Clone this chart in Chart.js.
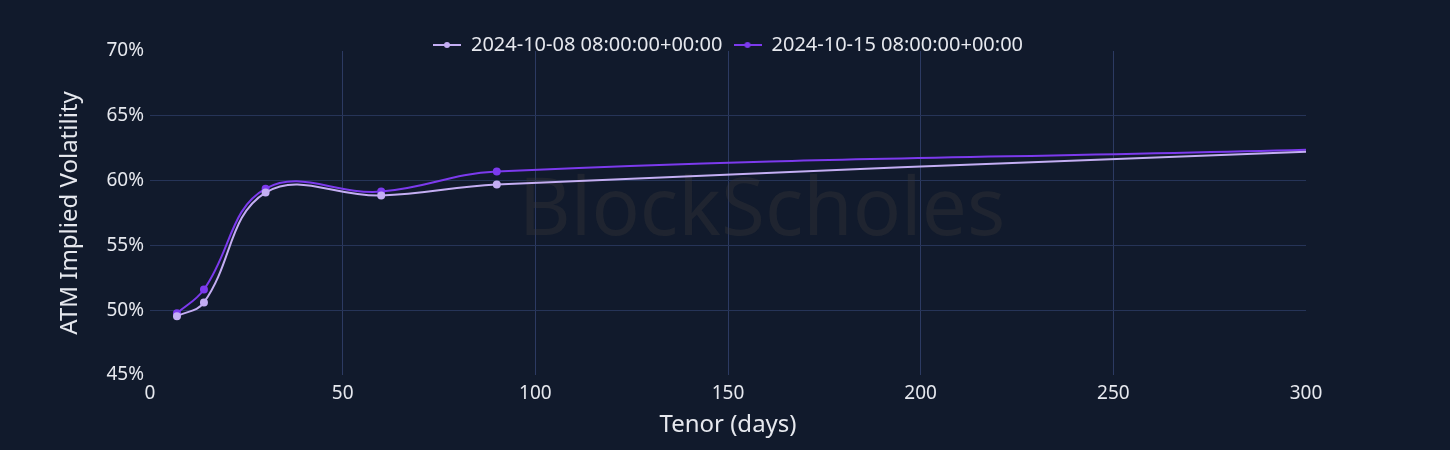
<!DOCTYPE html>
<html>
<head>
<meta charset="utf-8">
<script src="https://cdn.jsdelivr.net/npm/chart.js@4/dist/chart.umd.min.js"></script>
<style>
  html, body { margin: 0; padding: 0; background: #111a2c; }
  #wrap { width: 1450px; height: 450px; }
</style>
</head>
<body>
<div id="wrap"><canvas id="atmVol"></canvas></div>
<script>
const tenors = [7, 14, 30, 60, 90, 300];
const vol_1008 = [49.54, 50.6, 59.08, 58.85, 59.7, 62.23];
const vol_1015 = [49.77, 51.6, 59.38, 59.15, 60.7, 62.38];
const seriesNames = ['2024-10-08 08:00:00+00:00', '2024-10-15 08:00:00+00:00'];
const seriesColors = ['#c4aef3', '#7c3aed'];
const xTicks = [0, 50, 100, 150, 200, 250, 300];
const yTicks = [45, 50, 55, 60, 65, 70];

const gridColor = '#263458';
const textColor = '#e6e8ee';
const font = 'Noto Sans';

// little line-with-dot marker for the legend
function legendIcon(color) {
    const c = document.createElement('canvas');
    c.width = 28;
    c.height = 8;
    const g = c.getContext('2d');
    g.strokeStyle = color;
    g.lineWidth = 2;
    g.beginPath();
    g.moveTo(0, 4);
    g.lineTo(28, 4);
    g.stroke();
    g.fillStyle = color;
    g.beginPath();
    g.arc(14, 4, 3, 0, Math.PI * 2);
    g.fill();
    return c;
}

// markers only on the quoted tenors, not on the curve end
const radii = tenors.map(t => t === 300 ? 0 : 3);

const watermark = {
    id: 'watermark',
    beforeDatasetsDraw(chart) {
        const { ctx, chartArea } = chart;
        ctx.save();
        ctx.font = '80px "Noto Sans"';
        ctx.fillStyle = 'rgba(58, 58, 58, 0.35)';
        ctx.textAlign = 'center';
        ctx.textBaseline = 'middle';
        ctx.fillText('BlockScholes', (chartArea.left + chartArea.right) / 2 + 34, 212);
        ctx.restore();
    }
};

// legend sits a bit lower and is centred over the plot area, not the canvas
const nudgeLegend = {
    id: 'nudgeLegend',
    afterLayout(chart) {
        const lg = chart.legend;
        const dx = chart.chartArea.left / 2;
        lg.top += 14;
        lg.bottom += 14;
        lg.left += dx;
        lg.right += dx;
    }
};

const ctx = document.getElementById('atmVol').getContext('2d');
const atmVol = new Chart(ctx, {
    type: 'line',
    data: {
        datasets: [{
            label: seriesNames[0],
            data: tenors.map((t, i) => ({ x: t, y: vol_1008[i] })),
            borderColor: seriesColors[0],
            backgroundColor: seriesColors[0],
            borderWidth: 2,
            pointRadius: radii,
            pointHoverRadius: radii,
            tension: 0.4
        }, {
            label: seriesNames[1],
            data: tenors.map((t, i) => ({ x: t, y: vol_1015[i] })),
            borderColor: seriesColors[1],
            backgroundColor: seriesColors[1],
            borderWidth: 2,
            pointRadius: radii,
            pointHoverRadius: radii,
            tension: 0.4
        }]
    },
    options: {
        responsive: true,
        maintainAspectRatio: false,
        animation: false,
        layout: { padding: { top: 10, right: 144, left: 0, bottom: 0 } },
        plugins: {
            legend: {
                position: 'top',
                labels: {
                    usePointStyle: true,
                    pointStyleWidth: 28,
                    padding: 11,
                    color: textColor,
                    font: { family: font, size: 20 },
                    generateLabels(chart) {
                        return Chart.defaults.plugins.legend.labels.generateLabels(chart).map((l, i) => {
                            l.pointStyle = legendIcon(seriesColors[i]);
                            return l;
                        });
                    }
                }
            },
            tooltip: { enabled: false }
        },
        scales: {
            x: {
                type: 'linear',
                min: 0,
                max: 300,
                afterBuildTicks(axis) { axis.ticks = xTicks.map(v => ({ value: v })); },
                afterFit(axis) { axis.height = 75; },
                border: { display: false },
                grid: {
                    drawTicks: false,
                    color: c => (c.tick && (c.tick.value === 0 || c.tick.value === 300)) ? 'rgba(0,0,0,0)' : '#2c3a62',
                    lineWidth: 1
                },
                ticks: {
                    color: textColor,
                    padding: 7,
                    maxRotation: 0,
                    font: { family: font, size: 19 }
                },
                title: {
                    display: true,
                    text: 'Tenor (days)',
                    color: textColor,
                    font: { family: font, size: 24 },
                    padding: { top: 0, bottom: 10 }
                }
            },
            y: {
                min: 45,
                max: 70,
                afterBuildTicks(axis) { axis.ticks = yTicks.map(v => ({ value: v })); },
                afterFit(axis) { axis.width = 150; },
                border: { display: false },
                grid: {
                    drawTicks: false,
                    color: c => (c.tick && (c.tick.value === 45 || c.tick.value === 70)) ? 'rgba(0,0,0,0)' : gridColor,
                    lineWidth: 1
                },
                ticks: {
                    color: textColor,
                    padding: 6,
                    font: { family: font, size: 19 },
                    callback: v => v + '%'
                },
                title: {
                    display: true,
                    text: 'ATM Implied Volatility',
                    color: textColor,
                    font: { family: font, size: 24 },
                    padding: { top: 56, bottom: 0 }
                }
            }
        }
    },
    plugins: [watermark, nudgeLegend]
});
</script>
</body>
</html>
